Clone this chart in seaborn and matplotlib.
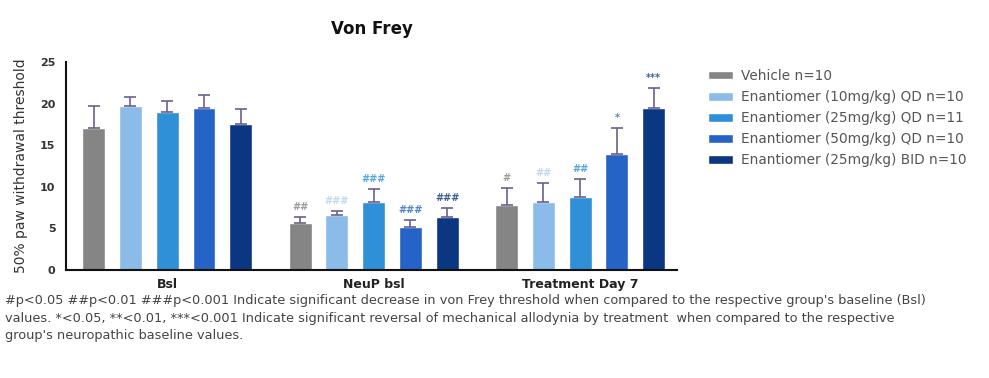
import numpy as np
import pandas as pd
import matplotlib
matplotlib.use("Agg")
import matplotlib.pyplot as plt
import seaborn as sns

# data
timepoints = ["Bsl", "NeuP bsl", "Treatment Day 7"]
groups = ["Vehicle n=10",
          "Enantiomer (10mg/kg) QD n=10",
          "Enantiomer (25mg/kg) QD n=11",
          "Enantiomer (50mg/kg) QD n=10",
          "Enantiomer (25mg/kg) BID n=10"]
colors = ["#858585", "#8bbbe8", "#2f90d8", "#2663c6", "#0b3682"]

means = {
    "Vehicle n=10":                  [17.1, 5.7, 7.8],
    "Enantiomer (10mg/kg) QD n=10":  [19.7, 6.6, 8.2],
    "Enantiomer (25mg/kg) QD n=11":  [19.0, 8.2, 8.8],
    "Enantiomer (50mg/kg) QD n=10":  [19.5, 5.2, 14.0],
    "Enantiomer (25mg/kg) BID n=10": [17.5, 6.4, 19.5],
}
sems = {
    "Vehicle n=10":                  [2.6, 0.7, 2.1],
    "Enantiomer (10mg/kg) QD n=10":  [1.1, 0.5, 2.3],
    "Enantiomer (25mg/kg) QD n=11":  [1.3, 1.5, 2.1],
    "Enantiomer (50mg/kg) QD n=10":  [1.6, 0.8, 3.1],
    "Enantiomer (25mg/kg) BID n=10": [1.9, 1.0, 2.4],
}
stars = {
    "Vehicle n=10":                  ["", "##", "#"],
    "Enantiomer (10mg/kg) QD n=10":  ["", "###", "##"],
    "Enantiomer (25mg/kg) QD n=11":  ["", "###", "##"],
    "Enantiomer (50mg/kg) QD n=10":  ["", "###", "*"],
    "Enantiomer (25mg/kg) BID n=10": ["", "###", "***"],
}

footnote = ("#p<0.05 ##p<0.01 ###p<0.001 Indicate significant decrease in von Frey threshold when compared to the respective group's baseline (Bsl)\n"
            "values. *<0.05, **<0.01, ***<0.001 Indicate significant reversal of mechanical allodynia by treatment  when compared to the respective\n"
            "group's neuropathic baseline values.")

rows = []
for g in groups:
    for t, m in zip(timepoints, means[g]):
        rows.append({"time": t, "group": g, "value": m})
df = pd.DataFrame(rows)

sns.set_style("white")
plt.rcParams["font.family"] = ["DejaVu Sans"]

fig = plt.figure(figsize=(9.89, 3.78), dpi=100)
ax = fig.add_axes([0.0667, 0.2857, 0.618, 0.55])

sns.barplot(data=df, x="time", y="value", hue="group", order=timepoints,
            hue_order=groups, palette=colors, width=0.89, gap=0.38,
            errorbar=None, saturation=1, ax=ax, legend=True)

# upward-only error bars and significance marks
for cont, g, c in zip(ax.containers, groups, colors):
    for bar, s, lab in zip(cont, sems[g], stars[g]):
        x = bar.get_x() + bar.get_width() / 2
        h = bar.get_height()
        ax.errorbar(x, h, yerr=[[0], [s]], color="#6e5f8e", lw=1.2,
                    capsize=4.5, capthick=1.2)
        if lab:
            ax.text(x, h + s + 0.6, lab, ha="center", va="bottom",
                    fontsize=7, color=c, alpha=0.8 if c != colors[1] else 0.55,
                    fontweight="bold")

ax.set_xlim(-0.49, 2.47)
ax.set_ylim(0, 25)
ax.set_yticks([0, 5, 10, 15, 20, 25])
ax.set_xlabel("")
ax.set_ylabel("50% paw withdrawal threshold", fontsize=10, color="#333333",
              labelpad=9)
sns.despine(ax=ax)
for sp in ["left", "bottom"]:
    ax.spines[sp].set_linewidth(1.5)
    ax.spines[sp].set_color("#111111")
ax.tick_params(axis="y", length=4, width=1.3, labelsize=8, colors="#111111",
               labelcolor="#333333")
ax.tick_params(axis="x", length=4, width=1.3, labelsize=9, colors="#111111",
               labelcolor="#222222", pad=2)
for lbl in ax.get_xticklabels() + ax.get_yticklabels():
    lbl.set_fontweight("bold")

ax.set_title("Von Frey", fontsize=12, fontweight="bold", pad=20, color="#111111")

handles, labels = ax.get_legend_handles_labels()
ax.get_legend().remove()
fig.legend(handles, labels, loc="upper left", bbox_to_anchor=(0.703, 0.85),
           frameon=False, fontsize=9.8, labelcolor="#555555",
           handlelength=1.9, handleheight=0.6, labelspacing=0.52,
           handletextpad=0.55)

fig.text(0.005, 0.222, footnote, ha="left", va="top", fontsize=9.3,
         color="#444444", linespacing=1.45)

fig.savefig("out.png", dpi=100)
